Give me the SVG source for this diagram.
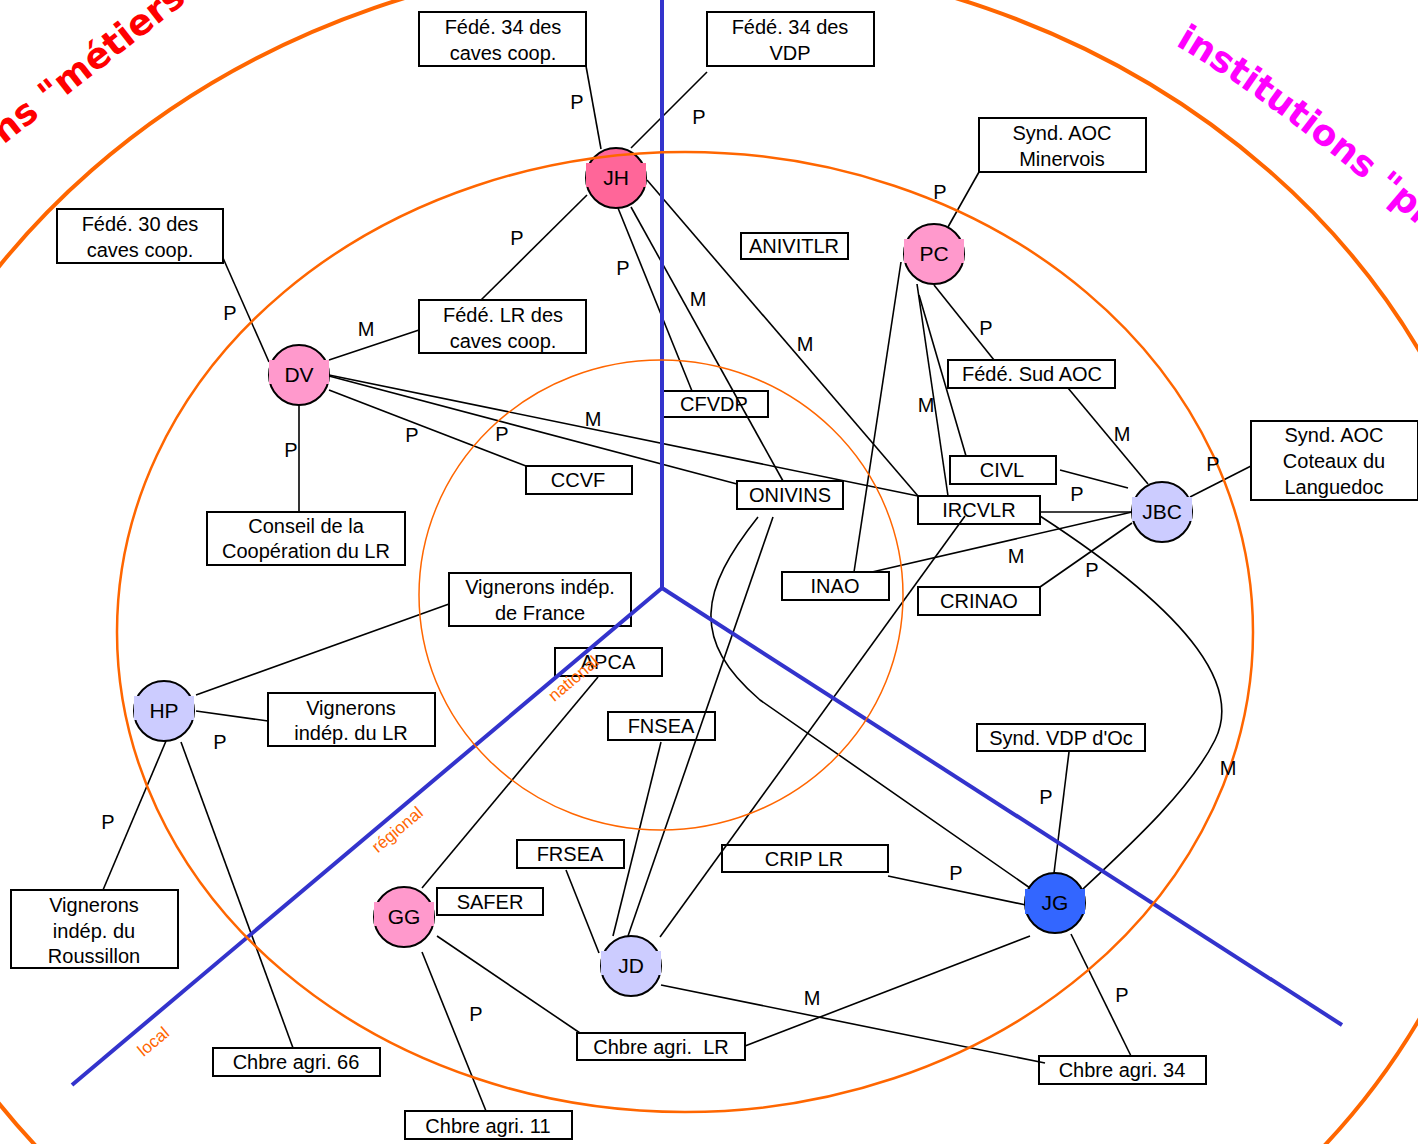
<svg xmlns="http://www.w3.org/2000/svg" width="1418" height="1144" viewBox="0 0 1418 1144">
<style>
text{font-family:"Liberation Sans",Arial,sans-serif;fill:#000}
.bx rect{fill:#fff;stroke:#000;stroke-width:2}
.bx text{font-size:20px;text-anchor:middle}
.lb{font-size:20px;text-anchor:middle}
.nd text{font-size:21px;text-anchor:middle}
.nd circle{stroke:#000;stroke-width:2}
#connectors line,#connectors path{stroke:#000;stroke-width:1.6;fill:none}
.ring{fill:none;stroke:#ff6600}
.axis{stroke:#3333cc;stroke-width:4;fill:none}
.lvl{font-size:17px;fill:#ff6600}
.pink{fill:#ff99cc}.hot{fill:#ff6699}.lav{fill:#ccccff}.blu{fill:#3366ff}
.big{font-family:"DejaVu Sans",sans-serif;font-weight:bold;font-size:36px}
</style>
<rect width="1418" height="1144" fill="#fff"/>

<g id="boxes" class="bx">
<g id="b-fede34cc"><rect x="419" y="12" width="167" height="54"/><text x="503" y="34">Fédé. 34 des</text><text x="503" y="60">caves coop.</text></g>
<g id="b-fede34vdp"><rect x="707" y="12" width="167" height="54"/><text x="790" y="34">Fédé. 34 des</text><text x="790" y="60">VDP</text></g>
<g id="b-aocmin"><rect x="979" y="118" width="167" height="54"/><text x="1062" y="140">Synd. AOC</text><text x="1062" y="166">Minervois</text></g>
<g id="b-fede30"><rect x="57" y="209" width="166" height="54"/><text x="140" y="231">Fédé. 30 des</text><text x="140" y="257">caves coop.</text></g>
<g id="b-fedelr"><rect x="419" y="300" width="167" height="53"/><text x="503" y="322">Fédé. LR des</text><text x="503" y="348">caves coop.</text></g>
<g id="b-anivitlr"><rect x="741" y="233" width="107" height="26"/><text x="794" y="253">ANIVITLR</text></g>
<g id="b-fedesud"><rect x="948" y="360" width="167" height="28"/><text x="1032" y="381">Fédé. Sud AOC</text></g>
<g id="b-cfvdp"><rect x="663" y="391" width="105" height="26"/><text x="714" y="411">CFVDP</text></g>
<g id="b-ccvf"><rect x="526" y="466" width="106" height="28"/><text x="578" y="487">CCVF</text></g>
<g id="b-onivins"><rect x="737" y="481" width="106" height="28"/><text x="790" y="502">ONIVINS</text></g>
<g id="b-civl"><rect x="950" y="456" width="106" height="28"/><text x="1002" y="477">CIVL</text></g>
<g id="b-ircvlr"><rect x="918" y="496" width="122" height="28"/><text x="979" y="517">IRCVLR</text></g>
<g id="b-aoccot"><rect x="1251" y="421" width="167" height="79"/><text x="1334" y="442">Synd. AOC</text><text x="1334" y="468">Coteaux du</text><text x="1334" y="494">Languedoc</text></g>
<g id="b-conseil"><rect x="207" y="512" width="198" height="53"/><text x="306" y="533">Conseil de la</text><text x="306" y="558">Coopération du LR</text></g>
<g id="b-inao"><rect x="782" y="572" width="107" height="28"/><text x="835" y="593">INAO</text></g>
<g id="b-crinao"><rect x="918" y="587" width="122" height="28"/><text x="979" y="608">CRINAO</text></g>
<g id="b-vif"><rect x="449" y="573" width="182" height="53"/><text x="540" y="594">Vignerons indép.</text><text x="540" y="620">de France</text></g>
<g id="b-apca"><rect x="555" y="648" width="107" height="28"/><text x="608" y="669">APCA</text></g>
<g id="b-vilr"><rect x="268" y="693" width="167" height="53"/><text x="351" y="715">Vignerons</text><text x="351" y="740">indép. du LR</text></g>
<g id="b-fnsea"><rect x="608" y="712" width="107" height="28"/><text x="661" y="733">FNSEA</text></g>
<g id="b-vdpoc"><rect x="977" y="724" width="168" height="27"/><text x="1061" y="745">Synd. VDP d'Oc</text></g>
<g id="b-frsea"><rect x="517" y="840" width="107" height="28"/><text x="570" y="861">FRSEA</text></g>
<g id="b-crip"><rect x="722" y="845" width="166" height="27"/><text x="804" y="866">CRIP LR</text></g>
<g id="b-safer"><rect x="437" y="888" width="106" height="27"/><text x="490" y="909">SAFER</text></g>
<g id="b-vir"><rect x="11" y="890" width="167" height="78"/><text x="94" y="912">Vignerons</text><text x="94" y="938">indép. du</text><text x="94" y="963">Roussillon</text></g>
<g id="b-calr"><rect x="577" y="1033" width="168" height="27"/><text x="661" y="1054" xml:space="preserve">Chbre agri.  LR</text></g>
<g id="b-ca66"><rect x="213" y="1048" width="167" height="28"/><text x="296" y="1069">Chbre agri. 66</text></g>
<g id="b-ca34"><rect x="1039" y="1056" width="167" height="28"/><text x="1122" y="1077">Chbre agri. 34</text></g>
<g id="b-ca11"><rect x="405" y="1111" width="167" height="28"/><text x="488" y="1133">Chbre agri. 11</text></g>
</g>

<g id="connectors">
<line x1="586" y1="66" x2="601" y2="149"/>
<line x1="707" y1="72" x2="631" y2="148"/>
<line x1="587" y1="195" x2="481" y2="300"/>
<line x1="618" y1="208" x2="692" y2="391"/>
<line x1="631" y1="207" x2="783" y2="481"/>
<line x1="647" y1="180" x2="918" y2="496"/>
<line x1="979" y1="172" x2="948" y2="227"/>
<line x1="934" y1="285" x2="994" y2="360"/>
<line x1="901" y1="262" x2="854" y2="572"/>
<line x1="917" y1="284" x2="948" y2="496"/>
<line x1="919" y1="295" x2="966" y2="456"/>
<line x1="1068" y1="388" x2="1148" y2="484"/>
<line x1="1060" y1="470" x2="1128" y2="488"/>
<line x1="1040" y1="512" x2="1132" y2="512"/>
<line x1="1190" y1="497" x2="1251" y2="466"/>
<line x1="1132" y1="512" x2="872" y2="572"/>
<line x1="1132" y1="523" x2="1040" y2="587"/>
<line x1="223" y1="258" x2="269" y2="362"/>
<line x1="329" y1="360" x2="419" y2="330"/>
<line x1="299" y1="405" x2="299" y2="512"/>
<line x1="329" y1="390" x2="526" y2="466"/>
<line x1="329" y1="376" x2="737" y2="484"/>
<line x1="329" y1="375" x2="918" y2="496"/>
<line x1="196" y1="695" x2="449" y2="604"/>
<line x1="196" y1="711" x2="268" y2="721"/>
<line x1="166" y1="741" x2="103" y2="890"/>
<line x1="181" y1="742" x2="293" y2="1048"/>
<line x1="422" y1="888" x2="598" y2="677"/>
<line x1="437" y1="936" x2="580" y2="1033"/>
<line x1="422" y1="952" x2="486" y2="1111"/>
<line x1="613" y1="936" x2="661" y2="742"/>
<line x1="628" y1="936" x2="773" y2="517"/>
<line x1="566" y1="870" x2="599" y2="953"/>
<line x1="660" y1="937" x2="965" y2="516"/>
<line x1="661" y1="985" x2="1045" y2="1063"/>
<line x1="888" y1="876" x2="1026" y2="905"/>
<line x1="1069" y1="752" x2="1054" y2="873"/>
<line x1="1071" y1="934" x2="1131" y2="1056"/>
<line x1="1030" y1="936" x2="745" y2="1046"/>
<path d="M1040,516 C1200,620 1240,690 1215,740 C1190,790 1130,845 1082,890"/>
<path d="M758,517 C700,590 690,640 760,700 L1030,888"/>
</g>

<g id="nodes" class="nd">
<g id="n-jh"><circle cx="616" cy="178" r="30" class="hot"/><rect x="586" y="163" width="60" height="24" class="hot"/><text x="616" y="185">JH</text></g>
<g id="n-pc"><circle cx="934" cy="254" r="30" class="pink"/><rect x="904" y="239" width="60" height="24" class="pink"/><text x="934" y="261">PC</text></g>
<g id="n-dv"><circle cx="299" cy="375" r="30" class="pink"/><rect x="269" y="360" width="60" height="24" class="pink"/><text x="299" y="382">DV</text></g>
<g id="n-jbc"><circle cx="1162" cy="512" r="30" class="lav"/><rect x="1132" y="497" width="60" height="24" class="lav"/><text x="1162" y="519">JBC</text></g>
<g id="n-hp"><circle cx="164" cy="711" r="30" class="lav"/><rect x="134" y="696" width="60" height="24" class="lav"/><text x="164" y="718">HP</text></g>
<g id="n-gg"><circle cx="404" cy="917" r="30" class="pink"/><rect x="374" y="902" width="60" height="24" class="pink"/><text x="404" y="924">GG</text></g>
<g id="n-jd"><circle cx="631" cy="966" r="30" class="lav"/><rect x="601" y="951" width="60" height="24" class="lav"/><text x="631" y="973">JD</text></g>
<g id="n-jg"><circle cx="1055" cy="903" r="30" class="blu"/><rect x="1025" y="889" width="60" height="25" class="blu"/><text x="1055" y="910">JG</text></g>
</g>

<g id="axes">
<line class="axis" x1="662" y1="0" x2="662" y2="588"/>
<line class="axis" x1="662" y1="588" x2="72" y2="1085"/>
<line class="axis" x1="662" y1="588" x2="1342" y2="1025"/>
</g>

<g id="rings">
<ellipse class="ring" cx="680" cy="685" rx="832" ry="728" stroke-width="4"/>
<ellipse class="ring" cx="685" cy="632" rx="568" ry="480" stroke-width="2.5"/>
<ellipse class="ring" cx="661" cy="595" rx="242" ry="235" stroke-width="1.5"/>
</g>

<g id="levels">
<text class="lvl" transform="translate(577,683) rotate(-40)" text-anchor="middle">national</text>
<text class="lvl" transform="translate(401,834) rotate(-40)" text-anchor="middle">régional</text>
<text class="lvl" transform="translate(157,1046) rotate(-40)" text-anchor="middle">local</text>
</g>

<g id="titles">
<text class="big" style="fill:#ff0000" transform="translate(-16,160) rotate(-38)">ons "métiers"</text>
<path id="tp" d="M1175,45 Q1290,112 1440,245" fill="none"/>
<text class="big" style="fill:#ff00ff"><textPath href="#tp">institutions "pro</textPath></text>
</g>

<g id="labels">
<text class="lb" x="577" y="109">P</text>
<text class="lb" x="699" y="124">P</text>
<text class="lb" x="517" y="245">P</text>
<text class="lb" x="623" y="275">P</text>
<text class="lb" x="698" y="306">M</text>
<text class="lb" x="805" y="351">M</text>
<text class="lb" x="940" y="199">P</text>
<text class="lb" x="986" y="335">P</text>
<text class="lb" x="926" y="412">M</text>
<text class="lb" x="1122" y="441">M</text>
<text class="lb" x="1077" y="501">P</text>
<text class="lb" x="1213" y="471">P</text>
<text class="lb" x="1016" y="563">M</text>
<text class="lb" x="1092" y="577">P</text>
<text class="lb" x="230" y="320">P</text>
<text class="lb" x="366" y="336">M</text>
<text class="lb" x="291" y="457">P</text>
<text class="lb" x="412" y="442">P</text>
<text class="lb" x="502" y="441">P</text>
<text class="lb" x="593" y="426">M</text>
<text class="lb" x="220" y="749">P</text>
<text class="lb" x="108" y="829">P</text>
<text class="lb" x="476" y="1021">P</text>
<text class="lb" x="812" y="1005">M</text>
<text class="lb" x="956" y="880">P</text>
<text class="lb" x="1046" y="804">P</text>
<text class="lb" x="1122" y="1002">P</text>
<text class="lb" x="1228" y="775">M</text>
</g>
</svg>
